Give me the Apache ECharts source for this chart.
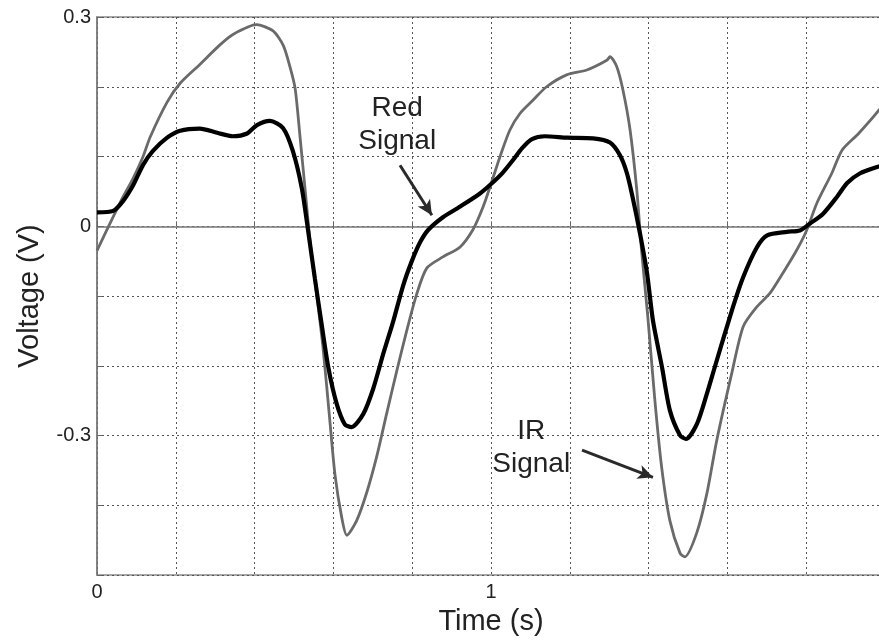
<!DOCTYPE html>
<html>
<head>
<meta charset="utf-8">
<script src="https://cdn.jsdelivr.net/npm/echarts@6/dist/echarts.min.js"></script>
<style>
    html, body { margin: 0; padding: 0; background: #fff; }
    #chart { width: 879px; height: 641px; }
</style>
</head>
<body>
<div id="chart"></div>
<script>
    // Red signal (black trace): time (s) / voltage (V)
    const redTime = [0, 0.041, 0.066, 0.091, 0.117, 0.142, 0.178, 0.211, 0.261, 0.305, 0.345, 0.381, 0.406, 0.439,
        0.472, 0.497, 0.520, 0.536, 0.553, 0.570, 0.587, 0.608, 0.629, 0.646, 0.676, 0.701, 0.727, 0.752, 0.777,
        0.799, 0.820, 0.841, 0.878, 0.921, 0.972, 1.003, 1.030, 1.056, 1.079, 1.104, 1.137, 1.193, 1.259, 1.302,
        1.327, 1.345, 1.360, 1.378, 1.396, 1.411, 1.434, 1.454, 1.480, 1.495, 1.523, 1.548, 1.569, 1.614, 1.640,
        1.675, 1.701, 1.751, 1.784, 1.810, 1.843, 1.878, 1.904, 1.937, 1.980, 2.0];
    const redVolt = [0.02, 0.022, 0.036, 0.058, 0.088, 0.108, 0.127, 0.137, 0.14, 0.134, 0.129, 0.133, 0.145, 0.151,
        0.141, 0.108, 0.054, -0.007, -0.075, -0.14, -0.202, -0.254, -0.284, -0.288, -0.269, -0.233, -0.182, -0.136, -0.085,
        -0.05, -0.023, -0.005, 0.013, 0.028, 0.047, 0.062, 0.077, 0.095, 0.112, 0.125, 0.129, 0.127, 0.126, 0.12,
        0.102, 0.076, 0.04, -0.01, -0.067, -0.135, -0.202, -0.264, -0.3, -0.305, -0.283, -0.24, -0.2, -0.116, -0.073,
        -0.03, -0.013, -0.008, -0.006, 0.004, 0.018, 0.042, 0.062, 0.076, 0.085, 0.088];

    // IR signal (gray trace)
    const irTime = [0, 0.033, 0.066, 0.091, 0.117, 0.135, 0.178, 0.211, 0.261, 0.312, 0.345, 0.405, 0.447, 0.473,
        0.490, 0.503, 0.515, 0.528, 0.541, 0.558, 0.574, 0.591, 0.604, 0.621, 0.634, 0.659, 0.685, 0.710, 0.735,
        0.761, 0.786, 0.811, 0.837, 0.878, 0.921, 0.954, 0.980, 1.002, 1.023, 1.048, 1.074, 1.107, 1.141, 1.192,
        1.243, 1.294, 1.302, 1.319, 1.335, 1.353, 1.370, 1.382, 1.398, 1.416, 1.433, 1.454, 1.480, 1.492, 1.522,
        1.548, 1.573, 1.611, 1.640, 1.674, 1.708, 1.741, 1.776, 1.801, 1.827, 1.865, 1.891, 1.933, 1.984, 2.0];
    const irVolt = [-0.035, 0.004, 0.042, 0.068, 0.1, 0.128, 0.178, 0.205, 0.232, 0.26, 0.275, 0.289, 0.28, 0.259,
        0.228, 0.197, 0.13, 0.054, -0.023, -0.10, -0.176, -0.279, -0.356, -0.417, -0.443, -0.422, -0.381, -0.33, -0.269,
        -0.207, -0.15, -0.098, -0.06, -0.044, -0.03, -0.005, 0.028, 0.064, 0.1, 0.138, 0.162, 0.181, 0.2, 0.217,
        0.224, 0.238, 0.243, 0.229, 0.195, 0.138, 0.052, -0.034, -0.13, -0.25, -0.345, -0.422, -0.469, -0.474, -0.44,
        -0.383, -0.307, -0.211, -0.144, -0.116, -0.096, -0.067, -0.034, -0.006, 0.033, 0.076, 0.109, 0.133, 0.166, 0.18];

    const xLabels = [0, 1];
    const yLabels = [0.3, 0, -0.3];

    const font = "'Liberation Sans', Arial, sans-serif";
    const pair = (t, v) => t.map((x, i) => [x, v[i]]);
    const showLabel = (list, val) => list.some(l => Math.abs(l - val) < 1e-6) ? String(Math.round(val * 10) / 10) : '';

    const chart = echarts.init(document.getElementById('chart'));

    const option = {
        animation: false,
        grid: {
            left: 97, top: 17, width: 788, height: 558,
            outerBoundsMode: 'none', containLabel: false,
            show: true, borderColor: '#8a8a8a', borderWidth: 1.5
        },
        xAxis: {
            type: 'value', min: 0, max: 2, interval: 0.2,
            name: 'Time (s)', nameLocation: 'middle', nameGap: 32,
            nameTextStyle: { fontFamily: font, fontSize: 29, color: '#222' },
            axisLine: { show: true, lineStyle: { color: '#777', width: 1.5 } },
            axisTick: { show: true, inside: true, length: 5, lineStyle: { color: '#666' } },
            axisLabel: {
                margin: 7, fontFamily: font, fontSize: 20, color: '#222',
                formatter: v => showLabel(xLabels, v)
            },
            splitLine: { show: true, lineStyle: { color: '#555', type: [2, 3], width: 1 } }
        },
        yAxis: {
            type: 'value', min: -0.5, max: 0.3, interval: 0.1,
            name: 'Voltage (V)', nameLocation: 'middle', nameGap: 53,
            nameTextStyle: { fontFamily: font, fontSize: 29, color: '#222' },
            axisLine: { show: true, lineStyle: { color: '#777', width: 1.5 } },
            axisTick: { show: true, inside: true, length: 5, lineStyle: { color: '#666' } },
            axisLabel: {
                margin: 6, fontFamily: font, fontSize: 20, color: '#222',
                formatter: v => showLabel(yLabels, v)
            },
            splitLine: { show: true, lineStyle: { color: '#555', type: [2, 3], width: 1 } }
        },
        series: [
            {
                name: 'IR Signal', type: 'line', showSymbol: false, smooth: 0.25,
                data: pair(irTime, irVolt),
                lineStyle: { color: '#6a6a6a', width: 2.8 },
                z: 2,
                markLine: {
                    silent: true, symbol: ['none', 'arrow'], symbolSize: [11, 15],
                    label: { show: false },
                    lineStyle: { color: '#2a2a2a', width: 3, type: 'solid' },
                    data: [[{ coord: [1.231, -0.321] }, { coord: [1.411, -0.360] }]]
                }
            },
            {
                name: 'Red Signal', type: 'line', showSymbol: false, smooth: 0.25,
                data: pair(redTime, redVolt),
                lineStyle: { color: '#000', width: 4.2 },
                z: 3,
                markLine: {
                    silent: true, symbol: ['none', 'arrow'], symbolSize: [11, 15],
                    label: { show: false },
                    lineStyle: { color: '#2a2a2a', width: 3, type: 'solid' },
                    data: [[{ coord: [0.769, 0.0875] }, { coord: [0.850, 0.0158] }]]
                }
            }
        ]
    };
    chart.setOption(option);

    // series annotations, placed from data coordinates
    const redPos = chart.convertToPixel({ gridIndex: 0 }, [0.762, 0.146]);
    const irPos = chart.convertToPixel({ gridIndex: 0 }, [1.102, -0.317]);
    const annStyle = { fontFamily: font, fontSize: 28, fill: '#222', align: 'center', verticalAlign: 'middle', lineHeight: 33 };
    chart.setOption({
        graphic: [
            { type: 'text', x: redPos[0], y: redPos[1], z: 10, style: Object.assign({ text: 'Red\nSignal' }, annStyle) },
            { type: 'text', x: irPos[0], y: irPos[1], z: 10, style: Object.assign({ text: 'IR\nSignal' }, annStyle) }
        ]
    });
</script>
</body>
</html>
